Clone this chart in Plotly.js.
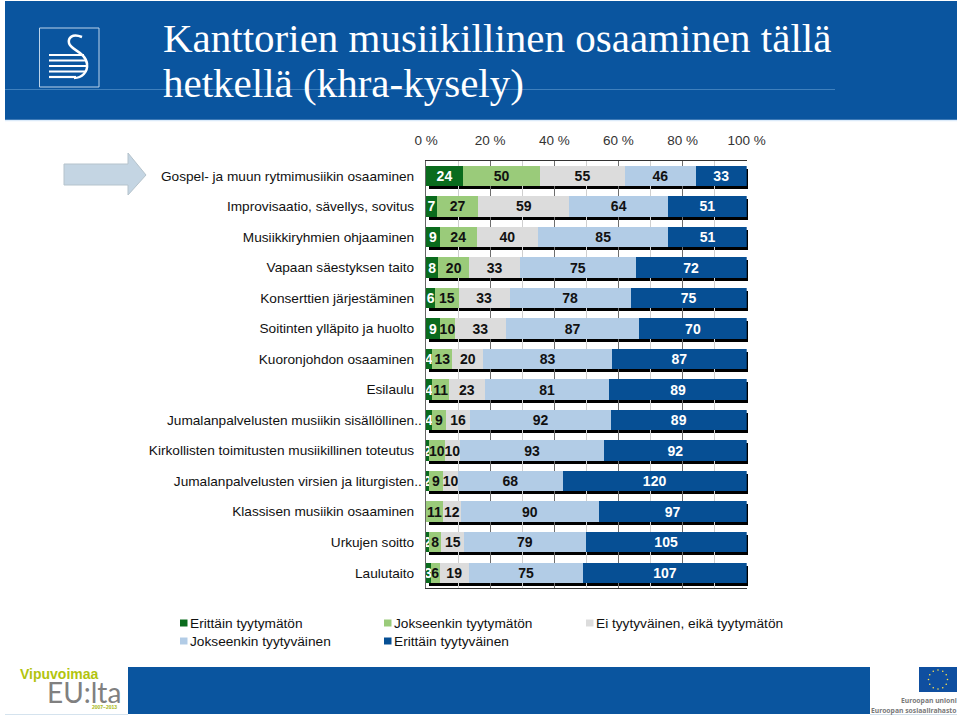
<!DOCTYPE html>
<html><head><meta charset="utf-8">
<script src="https://cdn.plot.ly/plotly-3.0.1.min.js"></script>
<style>html,body{margin:0;padding:0;background:#fff}#c{width:960px;height:716px}</style>
</head><body><div id="c"></div>
<script>
const categories = ["Gospel- ja muun rytmimusiikin osaaminen","Improvisaatio, sävellys, sovitus","Musiikkiryhmien ohjaaminen","Vapaan säestyksen taito","Konserttien järjestäminen","Soitinten ylläpito ja huolto","Kuoronjohdon osaaminen","Esilaulu","Jumalanpalvelusten musiikin sisällöllinen..","Kirkollisten toimitusten musiikillinen toteutus","Jumalanpalvelusten virsien ja liturgisten..","Klassisen musiikin osaaminen","Urkujen soitto","Laulutaito"];
const seriesNames = ["Erittäin tyytymätön","Jokseenkin tyytymätön","Ei tyytyväinen, eikä tyytymätön","Jokseenkin tyytyväinen","Erittäin tyytyväinen"];
const erittainTyytymaton = [24,7,9,8,6,9,4,4,4,2,2,0,2,3];
const jokseenkinTyytymaton = [50,27,24,20,15,10,13,11,9,10,9,11,8,6];
const eiKumpikaan = [55,59,40,33,33,33,20,23,16,10,10,12,15,19];
const jokseenkinTyytyvainen = [46,64,85,75,78,87,83,81,92,93,68,90,79,75];
const erittainTyytyvainen = [33,51,51,72,75,70,87,89,89,92,120,97,105,107];
const seriesValues = [erittainTyytymaton,jokseenkinTyytymaton,eiKumpikaan,jokseenkinTyytyvainen,erittainTyytyvainen];
const seriesColors = ["#0a6b1d","#9acb7a","#dcdcdc","#b2cce6","#064f94"];
const textColors = ["#ffffff","#111111","#111111","#111111","#ffffff"];
const tickVals = [0,20,40,60,80,100];
const tickLabels = ["0 %","20 %","40 %","60 %","80 %","100 %"];

const W=960,H=716;
const fx=x=>x/W, fy=y=>1-y/H;
const rect=(x0,y0,x1,y1,fill,line,lw)=>({type:'rect',xref:'paper',yref:'paper',x0:fx(x0),x1:fx(x1),y0:fy(y0),y1:fy(y1),fillcolor:fill,line:{color:line||fill,width:line?(lw||1):0},layer:'below'});
const hline=(x0,y,x1,c,w)=>({type:'line',xref:'paper',yref:'paper',x0:fx(x0),x1:fx(x1),y0:fy(y),y1:fy(y),line:{color:c,width:w||1},layer:'below'});
const pathShape=(pts,fill,line,lw)=>({type:'path',xref:'paper',yref:'paper',layer:'below',
  path:pts.map(p=>typeof p==='string'?p:(fx(p[0])+','+fy(p[1]))).join(' '),
  fillcolor:fill||'rgba(0,0,0,0)',line:{color:line||'rgba(0,0,0,0)',width:lw||1}});

const shapes=[
  rect(5,1,957,120,'#0a559f'),
  hline(5,89.5,835,'#3f80bd',1),
  hline(5,120.5,957,'#dcebfa',1.5),
  rect(39.5,28,99,87,'rgba(0,0,0,0)','#bcd4ea',1),
  hline(49,55,84,'#fff',2.2), hline(49,60.5,86,'#fff',2.2), hline(49,66,87,'#fff',2.2), hline(49,71.5,85,'#fff',2.2), hline(49,77,76,'#fff',2.2),
  pathShape(['M',[82,37],'C',[72,33],[68,38],[69,43],'C',[70,50],[86,52],[87,64],'C',[88,72],[82,78],[74,78]],null,'#fff',2.5),
  pathShape(['M',[64,164],'L',[128,164],'L',[128,153],'L',[146,175],'L',[128,195],'L',[128,185],'L',[64,185],'Z'],'#c4d5e3','#b5c3cc',1),
  rect(128,667,870,714,'#0a559f'),
  hline(5,714.5,128,'#d5e3ee',1),
  hline(870,714.5,957,'#cfdde8',1),
  rect(919,667,957,692,'#0f4fa0'),
];
for(let i=0;i<12;i++){const a=i*Math.PI/6,cx=938+9.5*Math.cos(a),cy=679.5+9.5*Math.sin(a);
  shapes.push({type:'circle',xref:'paper',yref:'paper',layer:'below',x0:fx(cx-.8),x1:fx(cx+.8),y0:fy(cy-.8),y1:fy(cy+.8),fillcolor:'#ffe34d',line:{width:0}});}
const legendPos=[[180,623],[384,623],[586,623],[180,641],[384,641]];
const annotations=[];
const ann=(text,x,y,size,color,anchor,family,extra)=>annotations.push(Object.assign({text,xref:'paper',yref:'paper',x:fx(x),y:fy(y),showarrow:false,xanchor:anchor||'left',yanchor:'middle',font:{size,color,family:family||'Liberation Sans, Arial, sans-serif'},borderpad:0,borderwidth:0},extra||{}));
seriesNames.forEach((n,i)=>{const [x,y]=legendPos[i];
  shapes.push(Object.assign(rect(x,y-3.5,x+7.5,y+3.5,seriesColors[i]),{layer:'above'}));
  ann(n,x+9.5,y,13.7,'#111111');});
ann('hetkellä (khra-kysely)',163,83,41,'#ffffff','left','Liberation Serif, serif');
ann('<b>Vipuvoimaa</b>',20,674,14,'#b2c40e','left','Liberation Sans, Arial, sans-serif');
ann('EU:lta',47,692,28,'#808080','left','Lato, sans-serif');
ann('<b>2007–2013</b>',92,707,5,'#a8b614');
ann('<b>Euroopan unioni</b>',957,700,6.8,'#7a7a7a','right','Noto Sans, sans-serif');
ann('<b>Euroopan sosiaalirahasto</b>',957,710,6.8,'#7a7a7a','right','Noto Sans, sans-serif');

const totals=categories.map((_,r)=>seriesValues.reduce((s,v)=>s+v[r],0));
const tickText=categories.map(c=>c.endsWith('..')?c:c+'\u00a0\u00a0');
const traces=[{type:'bar',orientation:'h',y:categories,x:totals,xaxis:'x',yaxis:'y',marker:{color:'#000',line:{width:0}},hoverinfo:'skip',showlegend:false,name:'varjo'}];
seriesValues.forEach((vals,i)=>traces.push({type:'bar',orientation:'h',name:seriesNames[i],y:categories,x:vals,xaxis:'x2',yaxis:'y2',
  marker:{color:seriesColors[i],line:{width:0}},text:vals.map(v=>v?String(v):''),texttemplate:'%{text}',textposition:'inside',insidetextanchor:'middle',constraintext:'none',textangle:0,cliponaxis:false,
  insidetextfont:{family:'Liberation Sans, Arial, sans-serif',size:14,color:textColors[i],weight:700},showlegend:false}));

const L=426,R=746.7,T=160.7,B=588;
const hiddenAxis={showgrid:false,zeroline:false,showline:false,showticklabels:false,ticks:''};
const layout={
  width:W,height:H,margin:{l:0,r:0,t:0,b:0},paper_bgcolor:'#fff',plot_bgcolor:'rgba(0,0,0,0)',
  barmode:'stack',barnorm:'percent',bargap:0.33,showlegend:false,
  title:{text:'Kanttorien musiikillinen osaaminen tällä',x:fx(163),xanchor:'left',xref:'paper',y:fy(38),yanchor:'middle',font:{family:'Liberation Serif, serif',size:41,color:'#ffffff'}},
  xaxis:Object.assign({domain:[fx(429),fx(748)],range:[0,100],anchor:'y'},hiddenAxis),
  yaxis:Object.assign({domain:[fy(B+3),fy(T+3)],type:'category',categoryorder:'array',categoryarray:categories,range:[13.5,-0.5],anchor:'x'},hiddenAxis),
  xaxis2:{domain:[fx(L),fx(R)],range:[0,100],anchor:'y2',side:'top',tickmode:'array',tickvals:tickVals,ticktext:tickLabels,ticks:'outside',ticklen:9,tickcolor:'rgba(0,0,0,0)',
    tickfont:{family:'Liberation Sans, Arial, sans-serif',size:13.5,color:'#333'},showgrid:true,gridcolor:'#6e6e6e',gridwidth:1.2,zeroline:false,showline:true,linecolor:'#333',linewidth:1,mirror:true,
    minor:{dtick:10,showgrid:true,gridcolor:'#cfcfcf',gridwidth:1,ticks:''}},
  yaxis2:{domain:[fy(B),fy(T)],type:'category',categoryorder:'array',categoryarray:categories,range:[13.5,-0.5],anchor:'x2',tickmode:'array',tickvals:categories,ticktext:tickText,ticks:'',ticklen:0,
    tickfont:{family:'Liberation Sans, Arial, sans-serif',size:13.65,color:'#111'},showgrid:false,zeroline:false,showline:true,linecolor:'#666',linewidth:1.5},
  shapes,annotations
};
Plotly.newPlot('c',traces,layout,{displayModeBar:false,staticPlot:true});
</script></body></html>
